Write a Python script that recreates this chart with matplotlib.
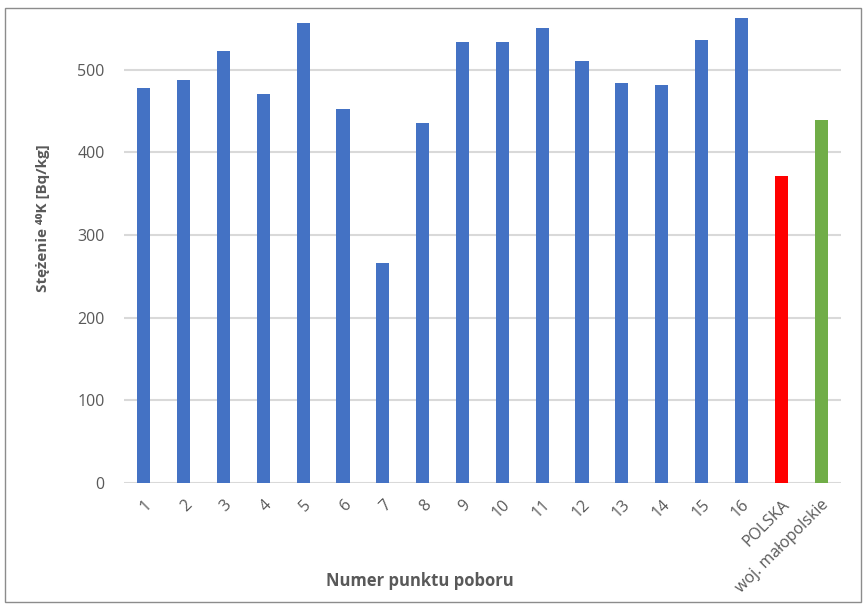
import matplotlib
matplotlib.use("Agg")
import matplotlib.pyplot as plt
from matplotlib.patches import Rectangle

plt.rcParams['font.family'] = ['Open Sans', 'DejaVu Sans']

categories = [str(i) for i in range(1, 17)] + ["POLSKA", "woj. małopolskie"]
values = [478, 488, 523, 471, 557, 452, 266, 435, 534, 534,
          551, 511, 484, 481, 536, 563, 372, 439]
colors = ["#4472C4"] * 16 + ["#FF0000", "#70AD47"]
y_ticks = [0, 100, 200, 300, 400, 500]

fig = plt.figure(figsize=(8.67, 6.04), dpi=100)
ax = fig.add_axes([0.143, 0.2003, 0.827, 0.7732])

x = list(range(len(categories)))
ax.bar(x, values, width=0.33, color=colors, zorder=3)

ax.set_xlim(-0.5, len(categories) - 0.5)
ax.set_ylim(0, 565)
ax.set_yticks(y_ticks)
ax.grid(axis='y', color='#d9d9d9', linewidth=1.5, zorder=0)
for s in ax.spines.values():
    s.set_visible(False)
ax.tick_params(length=0, colors='#595959', labelsize=11.5)
ax.tick_params(axis='y', pad=14)
ax.tick_params(axis='x', pad=10)
ax.set_xticks(x)
ax.set_xticklabels(categories, rotation=45, ha='right', va='top',
                   rotation_mode='anchor')

ax.set_ylabel("Stężenie ⁴⁰K [Bq/kg]", fontsize=11, fontweight='bold',
              color='#595959')
ax.yaxis.set_label_coords(-0.103, 0.567)
ax.set_xlabel("Numer punktu poboru", fontsize=12, fontweight='bold',
              color='#595959')
ax.xaxis.set_label_coords(0.413, -0.19)

# Chart frame
fig.patches.append(Rectangle((5 / 867, 2 / 604), 856 / 867, 594 / 604,
                             transform=fig.transFigure, fill=False,
                             edgecolor='#8c8c8c', linewidth=1))

fig.savefig("out.png", dpi=100)
